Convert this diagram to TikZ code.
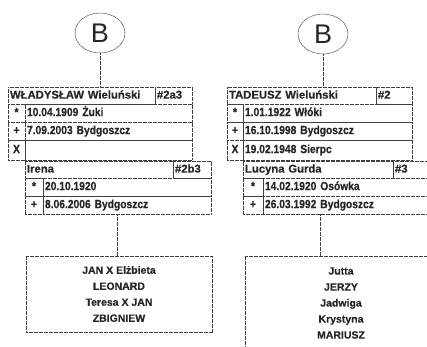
\documentclass[tikz,border=0pt]{standalone}
\usepackage{fontspec}
\setmainfont{Liberation Sans}
\newfontfamily\narrowsans[FakeStretch=0.87,FakeBold=0.4]{Liberation Sans}
\newfontfamily\widesans[FakeBold=0.4]{Liberation Sans}
\usetikzlibrary{shapes.geometric}
\definecolor{ink}{gray}{0.15}
\definecolor{frame}{gray}{0.25}

\begin{document}
\begin{tikzpicture}[x=1pt, y=-1pt,
  rule/.style={draw=frame, line width=0.65pt, dash pattern=on 2pt off 0.5pt},
  root/.style={ellipse, rule, line width=0.5pt, minimum width=50pt, minimum height=40pt, inner sep=0pt,
               text=ink, font=\fontsize{27}{27}\selectfont},
  cell/.style={rule, anchor=north west, outer sep=0pt, inner xsep=2pt, inner ysep=0pt,
               text width=#1, align=left, minimum height=18pt, text=ink,
               text height=8.6pt, text depth=2.4pt,
               font=\narrowsans\bfseries\fontsize{11.8}{13}\selectfont},
  namecell/.style={cell=#1, minimum height=17pt, font=\widesans\bfseries\fontsize{11.3}{13}\selectfont},
  markcell/.style={cell=#1, align=center},
  kids/.style={rule, anchor=north west, outer sep=0pt, inner sep=0pt, align=center,
               text=ink, font=\widesans\bfseries\fontsize{10.5}{16}\selectfont}]
  \useasboundingbox (0,0) rectangle (427,346);
  \clip (0,0) rectangle (427,346);

  % left family
  \node[root] (wB) at (100,33) {B};
  \node[namecell=143pt] (wName) at (8,87) {WŁADYSŁAW Wieluński};
  \node[namecell=33pt] (wId) at (155,87) {\#2a3};
  \node[markcell=13pt] (wBornMk) at (8,104) {*};
  \node[cell=163pt] (wBorn) at (25,104) {10.04.1909 Żuki};
  \node[markcell=13pt] (wDiedMk) at (8,122) {+};
  \node[cell=163pt] (wDied) at (25,122) {7.09.2003 Bydgoszcz};
  \node[markcell=13pt, minimum height=20pt] (wWedMk) at (8,140) {X};
  \node[cell=163pt, minimum height=20pt] (wWed) at (25,140) {};
  \node[namecell=144pt] (iName) at (25,161) {Irena};
  \node[namecell=34pt] (iId) at (173,161) {\#2b3};
  \node[markcell=14pt] (iBornMk) at (25,178) {*};
  \node[cell=164pt] (iBorn) at (43,178) {20.10.1920};
  \node[markcell=14pt] (iDiedMk) at (25,196) {+};
  \node[cell=164pt] (iDied) at (43,196) {8.06.2006 Bydgoszcz};
  \node[kids, minimum width=186pt, minimum height=76pt] (wKids) at (26,256)
       {JAN X Elżbieta\\LEONARD\\Teresa X JAN\\ZBIGNIEW};
  \coordinate (wDrop) at (117,256);
  \draw[rule] (wB.south) -- (wB.south |- wName.north);
  \draw[rule] (wDrop) -- (wDrop |- iDied.south);

  % right family
  \node[root] (tB) at (323,34) {B};
  \node[namecell=145pt] (tName) at (227,87) {TADEUSZ Wieluński};
  \node[namecell=32pt] (tId) at (376,87) {\#2};
  \node[markcell=12pt] (tBornMk) at (227,104) {*};
  \node[cell=165pt] (tBorn) at (243,104) {1.01.1922 Włóki};
  \node[markcell=12pt] (tDiedMk) at (227,122) {+};
  \node[cell=165pt] (tDied) at (243,122) {16.10.1998 Bydgoszcz};
  \node[markcell=12pt, minimum height=20pt] (tWedMk) at (227,140) {X};
  \node[cell=165pt, minimum height=20pt] (tWed) at (243,140) {19.02.1948 Sierpc};
  \node[namecell=146pt] (lName) at (243,161) {Lucyna Gurda};
  \node[namecell=43pt] (lId) at (393,161) {\#3};
  \node[markcell=16pt] (lBornMk) at (243,178) {*};
  \node[cell=173pt] (lBorn) at (263,178) {14.02.1920 Osówka};
  \node[markcell=16pt] (lDiedMk) at (243,196) {+};
  \node[cell=173pt] (lDied) at (263,196) {26.03.1992 Bydgoszcz};
  \node[kids, minimum width=192pt, minimum height=94pt] (tKids) at (245,256)
       {Jutta\\JERZY\\Jadwiga\\Krystyna\\MARIUSZ};
  \coordinate (tDrop) at (320,256);
  \draw[rule] (tB.south) -- (tB.south |- tName.north);
  \draw[rule] (tDrop) -- (tDrop |- lDied.south);
\end{tikzpicture}
\end{document}
